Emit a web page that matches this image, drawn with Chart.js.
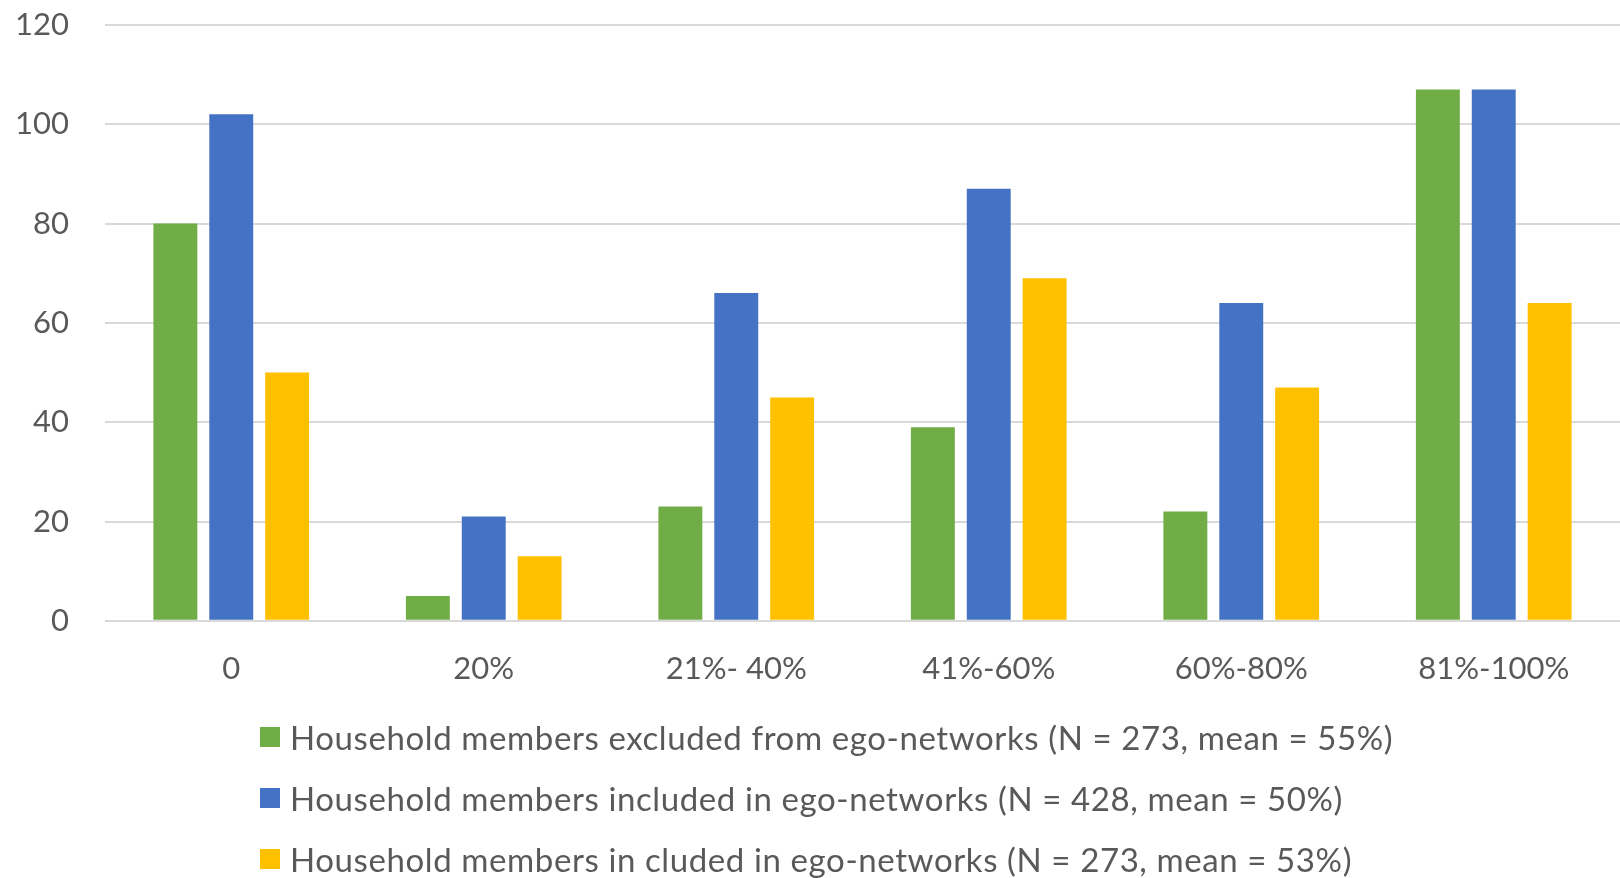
<!DOCTYPE html>
<html>
<head>
<meta charset="utf-8">
<script src="https://cdn.jsdelivr.net/npm/chart.js@4.4.1/dist/chart.umd.min.js"></script>
<style>
  body { margin: 0; background: #fff; }
  #wrap { position: relative; width: 1620px; height: 878px; overflow: hidden; }
  #chartBox { position: absolute; left: 0; top: 0; width: 1620px; height: 731px; }
  #legend { position: absolute; left: 260px; top: 706px; font-family: Lato, sans-serif; font-size: 33px; letter-spacing: 0.6px; color: #595959; }
  .item { height: 61px; display: flex; align-items: center; white-space: nowrap; }
  .box { width: 20px; height: 20px; margin-right: 10px; flex: none; }
</style>
</head>
<body>
<div id="wrap">
  <div id="chartBox"><canvas id="chart"></canvas></div>
  <div id="legend"></div>
</div>
<script>
// Chart data
const categories = ['0', '20%', '21%- 40%', '41%-60%', '60%-80%', '81%-100%'];
const excluded = [80, 5, 23, 39, 22, 107];
const included = [102, 21, 66, 87, 64, 107];
const inCluded = [50, 13, 45, 69, 47, 64];
const seriesNames = [
  'Household members excluded from ego-networks (N = 273, mean = 55%)',
  'Household members included in ego-networks (N = 428, mean = 50%)',
  'Household members in cluded in ego-networks (N = 273, mean = 53%)'
];
const seriesColors = ['#70AD47', '#4472C4', '#FFC000'];

document.addEventListener('DOMContentLoaded', function() {
  const textColor = '#595959';
  const font = { family: 'Lato, sans-serif', size: 31 };

  const datasets = [excluded, included, inCluded].map((values, i) => ({
    label: seriesNames[i],
    data: values,
    backgroundColor: seriesColors[i],
    categoryPercentage: 0.664,
    barPercentage: 0.786
  }));

  const chart = new Chart(document.getElementById('chart'), {
    type: 'bar',
    data: { labels: categories, datasets: datasets },
    options: {
      responsive: true,
      maintainAspectRatio: false,
      animation: false,
      layout: { padding: { top: 25, right: 0, bottom: 13, left: 0 } },
      scales: {
        x: {
          grid: { display: false, drawTicks: false },
          border: { display: false },
          ticks: { color: textColor, font: font, padding: 30, maxRotation: 0 }
        },
        y: {
          min: 0,
          max: 120,
          grid: { color: '#D9D9D9', lineWidth: 2, drawTicks: false },
          border: { display: false },
          ticks: { stepSize: 20, color: textColor, font: font, padding: 36 },
          afterFit: function(scale) {
            // fixed axis width, and no extra padding above/below the plot
            scale.width = 105;
            scale.paddingTop = 0;
            scale.paddingBottom = 0;
          }
        }
      },
      plugins: {
        legend: { display: false },
        tooltip: { enabled: false }
      }
    }
  });

  // HTML legend, one series per line
  const legend = document.getElementById('legend');
  chart.data.datasets.forEach(ds => {
    const item = document.createElement('div');
    item.className = 'item';
    const box = document.createElement('span');
    box.className = 'box';
    box.style.background = ds.backgroundColor;
    const label = document.createElement('span');
    label.textContent = ds.label;
    item.appendChild(box);
    item.appendChild(label);
    legend.appendChild(item);
  });
});
</script>
</body>
</html>
